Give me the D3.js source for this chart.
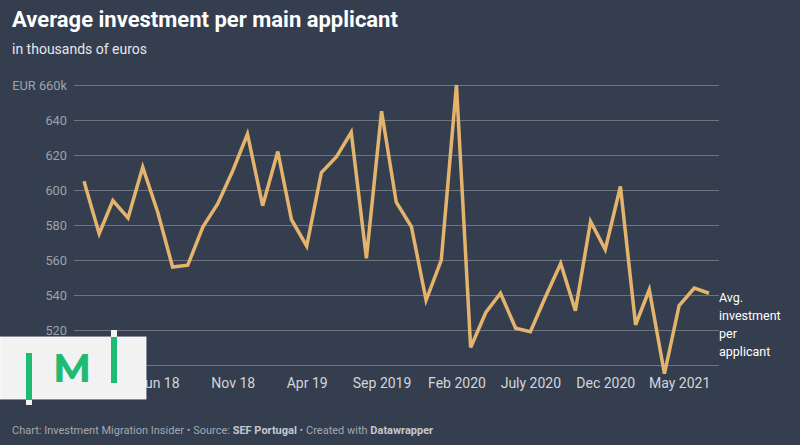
<!DOCTYPE html>
<html lang="en">
<head>
<meta charset="UTF-8">
<title>Average investment per main applicant</title>
<script src="https://cdnjs.cloudflare.com/ajax/libs/d3/7.8.5/d3.min.js"></script>
<style>
  html, body { margin: 0; padding: 0; background: #343e4f; }
  svg { display: block; font-family: Roboto, "Noto Sans", sans-serif; }
</style>
</head>
<body>
<svg id="chart" width="800" height="445"></svg>
<script>
// monthly data, Jan 2018 - Jul 2021
const months = [
  '2018-01','2018-02','2018-03','2018-04','2018-05','2018-06','2018-07','2018-08','2018-09','2018-10','2018-11','2018-12',
  '2019-01','2019-02','2019-03','2019-04','2019-05','2019-06','2019-07','2019-08','2019-09','2019-10','2019-11','2019-12',
  '2020-01','2020-02','2020-03','2020-04','2020-05','2020-06','2020-07','2020-08','2020-09','2020-10','2020-11','2020-12',
  '2021-01','2021-02','2021-03','2021-04','2021-05','2021-06','2021-07'
];
const investment = [
  605, 575, 594, 584, 613, 587, 556, 557, 579, 592, 611, 632,
  591, 622, 583, 568, 610, 619, 633, 561, 645, 593, 579, 537,
  560, 660, 510, 530, 541, 521, 519, 539, 558, 531, 582, 566,
  602, 523, 543, 495, 534, 544, 541
];
const yTicks = [500, 520, 540, 560, 580, 600, 620, 640, 660];
const xTicks = ['2018-06','2018-11','2019-04','2019-09','2020-02','2020-07','2020-12','2021-05'];
const xTickLabels = ['Jun 18','Nov 18','Apr 19','Sep 2019','Feb 2020','July 2020','Dec 2020','May 2021'];
const lineLabel = ['Avg.', 'investment', 'per', 'applicant'];

const parseMonth = d3.timeParse('%Y-%m');
const data = months.map((m, i) => ({ date: parseMonth(m), value: investment[i] }));

const svg = d3.select('#chart');

// title + subtitle
svg.append('text')
  .attr('x', 12).attr('y', 27)
  .attr('fill', '#ffffff')
  .attr('font-size', 22)
  .attr('font-weight', 700)
  .text('Average investment per main applicant');
svg.append('text')
  .attr('x', 12).attr('y', 54)
  .attr('fill', '#e6e7ea')
  .attr('font-size', 14)
  .text('in thousands of euros');

var x = d3.scaleTime()
  .domain(d3.extent(data, d => d.date))
  .range([84, 709]);
var y = d3.scaleLinear()
  .domain([500, 660])
  .range([365, 85]);

// gridlines + y labels (the 500 label sits under the logo, so it is left blank)
var yAxis = svg.append('g')
  .attr('transform', 'translate(74,0)')
  .call(d3.axisLeft(y).tickValues(yTicks).tickSize(-645).tickPadding(7)
    .tickFormat(d => d === 660 ? 'EUR 660k' : (d === 500 ? '' : d)));
yAxis.select('.domain').remove();
yAxis.selectAll('line').attr('stroke', '#6f747c').attr('stroke-width', 1);
yAxis.selectAll('text')
  .attr('fill', '#9ea3ab')
  .attr('font-size', 12.8)
  .attr('font-family', 'Roboto, sans-serif');

// x labels
var xAxis = svg.append('g')
  .attr('transform', 'translate(0,378)')
  .call(d3.axisBottom(x).tickValues(xTicks.map(parseMonth)).tickSize(0).tickPadding(0)
    .tickFormat((d, i) => xTickLabels[i]));
xAxis.select('.domain').remove();
xAxis.selectAll('text')
  .attr('fill', '#d4d6da')
  .attr('font-size', 14)
  .attr('font-family', 'Roboto, sans-serif');

// the line
var line = d3.line()
  .x(d => x(d.date))
  .y(d => y(d.value));
svg.append('path')
  .datum(data)
  .attr('fill', 'none')
  .attr('stroke', '#e4b36c')
  .attr('stroke-width', 3.5)
  .attr('stroke-linejoin', 'miter')
  .attr('d', line);

// direct label at line end
var last = data[data.length - 1];
svg.append('text')
  .attr('x', x(last.date) + 10)
  .attr('y', 302)
  .attr('fill', '#ffffff')
  .attr('font-size', 12.5)
  .selectAll('tspan')
  .data(lineLabel)
  .enter()
  .append('tspan')
  .attr('x', x(last.date) + 10)
  .attr('dy', (d, i) => i === 0 ? 0 : 18)
  .text(d => d);

// footer
var foot = svg.append('text')
  .attr('x', 12).attr('y', 434)
  .attr('fill', '#a3a8b0')
  .attr('font-size', 11);
foot.append('tspan').text('Chart: Investment Migration Insider • Source: ');
foot.append('tspan').attr('font-weight', 700).attr('fill', '#c4c8ce').text('SEF Portugal');
foot.append('tspan').text(' • Created with ');
foot.append('tspan').attr('font-weight', 700).attr('fill', '#c4c8ce').text('Datawrapper');

// logo overlay (bottom left)
var logo = svg.append('g');
logo.append('rect')
  .attr('x', 0).attr('y', 337).attr('width', 146).attr('height', 62)
  .attr('fill', '#f2f2f2').attr('stroke', '#ffffff').attr('stroke-width', 0.8);
logo.append('rect').attr('x', 26).attr('y', 400).attr('width', 6).attr('height', 5).attr('fill', '#f2f2f2');
logo.append('rect').attr('x', 26).attr('y', 353).attr('width', 6).attr('height', 47).attr('fill', '#1dbb74');
logo.append('rect').attr('x', 111).attr('y', 330).attr('width', 6).attr('height', 7).attr('fill', '#f2f2f2');
logo.append('rect').attr('x', 111).attr('y', 337).attr('width', 6).attr('height', 46).attr('fill', '#1dbb74');
logo.append('text')
  .attr('x', 72).attr('y', 382)
  .attr('text-anchor', 'middle')
  .attr('fill', '#1dbb74')
  .attr('font-size', 40)
  .attr('font-weight', 700)
  .attr('font-family', 'Montserrat, "Open Sans", Roboto, sans-serif')
  .text('M');
</script>
</body>
</html>
